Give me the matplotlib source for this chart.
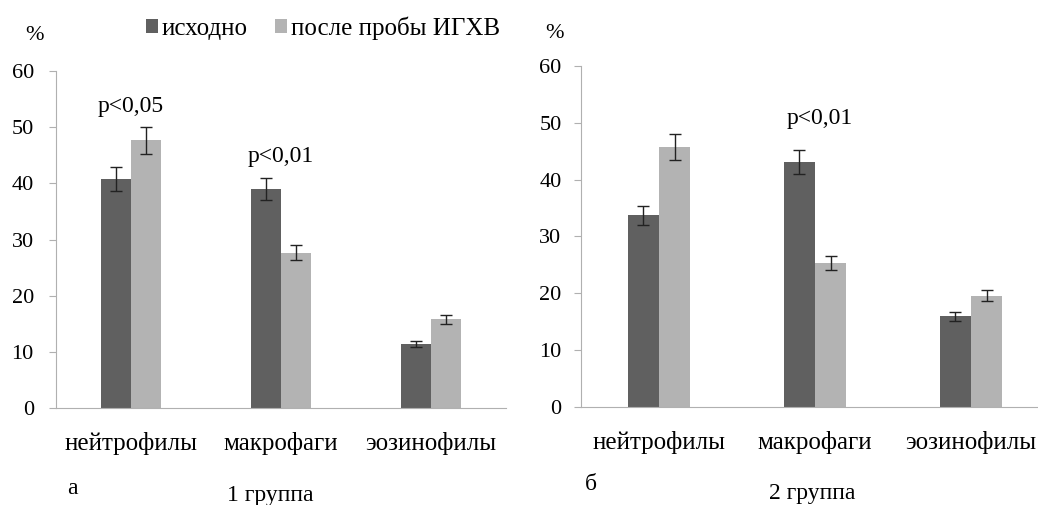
import matplotlib
matplotlib.use("Agg")
import matplotlib.pyplot as plt
import numpy as np

plt.rcParams['font.family'] = ['Liberation Serif', 'DejaVu Serif']

# Data
cells = ['нейтрофилы', 'макрофаги', 'эозинофилы']
series_names = ['исходно', 'после пробы ИГХВ']

g1_before = [40.8, 39.0, 11.4]
g1_before_err = [2.1, 2.0, 0.6]
g1_after = [47.7, 27.7, 15.8]
g1_after_err = [2.4, 1.4, 0.85]

g2_before = [33.7, 43.1, 16.0]
g2_before_err = [1.7, 2.15, 0.8]
g2_after = [45.7, 25.3, 19.6]
g2_after_err = [2.3, 1.25, 1.0]

dark = '#606060'
light = '#b3b3b3'
axis_col = '#b0b0b0'

fig = plt.figure(figsize=(10.38, 5.05), dpi=100)
ax1 = fig.add_axes([0.054, 0.192, 0.4335, 0.667])
ax2 = fig.add_axes([0.5597, 0.1935, 0.4509, 0.6764])

x = np.arange(len(cells))
w = 0.2


def draw_panel(ax, before, before_err, after, after_err, ypad):
    b1 = ax.bar(x - w / 2, before, w, color=dark, label=series_names[0])
    b2 = ax.bar(x + w / 2, after, w, color=light, label=series_names[1])
    ax.errorbar(x - w / 2, before, yerr=before_err, fmt='none', ecolor='#222222',
                elinewidth=1, capsize=4, capthick=1)
    ax.errorbar(x + w / 2, after, yerr=after_err, fmt='none', ecolor='#222222',
                elinewidth=1, capsize=4, capthick=1)
    ax.set_xlim(-0.5, 2.5)
    ax.set_ylim(0, 60)
    ax.set_yticks(range(0, 61, 10))
    ax.set_xticks(x)
    ax.set_xticklabels(cells, fontsize=18)
    ax.tick_params(axis='x', length=0, pad=17)
    ax.tick_params(axis='y', length=5, color=axis_col, labelsize=16, pad=ypad)
    for s in ['top', 'right']:
        ax.spines[s].set_visible(False)
    for s in ['left', 'bottom']:
        ax.spines[s].set_color(axis_col)
    return b1, b2


bars = draw_panel(ax1, g1_before, g1_before_err, g1_after, g1_after_err, 11)
draw_panel(ax2, g2_before, g2_before_err, g2_after, g2_after_err, 9)

# significance labels
ax1.text(0, 53.7, 'p<0,05', ha='center', va='center', fontsize=17)
ax1.text(1, 44.8, 'p<0,01', ha='center', va='center', fontsize=17)
ax2.text(1.03, 50.8, 'p<0,01', ha='center', va='center', fontsize=17)

# legend
fig.legend(bars, series_names, loc='center', bbox_to_anchor=(0.311, 0.945), ncol=2,
           frameon=False, fontsize=18, handlelength=0.48, handleheight=0.48,
           handletextpad=0.15, columnspacing=1.08)

# axis captions
fig.text(34 / 1038, 1 - 36 / 505, '%', ha='center', va='center', fontsize=16)
fig.text(555 / 1038, 1 - 33 / 505, '%', ha='center', va='center', fontsize=16)
fig.text(72 / 1038, 1 - 489 / 505, 'а', ha='center', va='center', fontsize=17)
fig.text(270 / 1038, 1 - 495 / 505, '1 группа', ha='center', va='center', fontsize=17)
fig.text(591 / 1038, 1 - 485 / 505, 'б', ha='center', va='center', fontsize=17)
fig.text(812 / 1038, 1 - 493 / 505, '2 группа', ha='center', va='center', fontsize=17)

fig.savefig('out.png', dpi=100)
